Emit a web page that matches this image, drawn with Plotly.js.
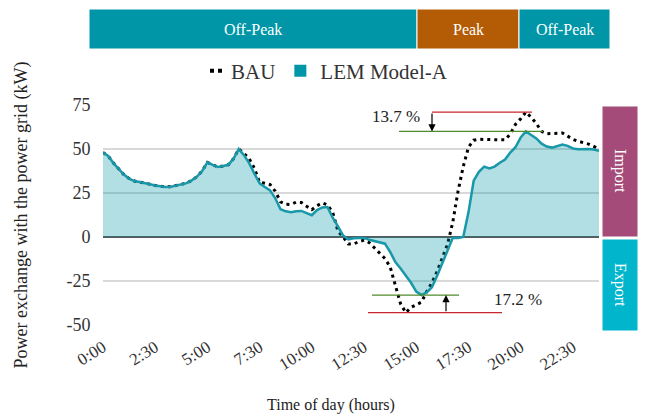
<!DOCTYPE html>
<html>
<head>
<meta charset="utf-8">
<script src="https://cdn.plot.ly/plotly-3.0.1.min.js"></script>
<style>html,body{margin:0;padding:0;background:#fff;}#chart{width:645px;height:417px;}</style>
</head>
<body>
<div id="chart"></div>
<script>
// ---- data (15-minute resolution) ----
const times = ["0:00","0:15","0:30","0:45","1:00","1:15","1:30","1:45","2:00","2:15","2:30","2:45",
"3:00","3:15","3:30","3:45","4:00","4:15","4:30","4:45","5:00","5:15","5:30","5:45",
"6:00","6:15","6:30","6:45","7:00","7:15","7:30","7:45","8:00","8:15","8:30","8:45",
"9:00","9:15","9:30","9:45","10:00","10:15","10:30","10:45","11:00","11:15","11:30","11:45",
"12:00","12:15","12:30","12:45","13:00","13:15","13:30","13:45","14:00","14:15","14:30","14:45",
"15:00","15:15","15:30","15:45","16:00","16:15","16:30","16:45","17:00","17:15","17:30","17:45",
"18:00","18:15","18:30","18:45","19:00","19:15","19:30","19:45","20:00","20:15","20:30","20:45",
"21:00","21:15","21:30","21:45","22:00","22:15","22:30","22:45","23:00","23:15","23:30","23:45"];

const bauValues = [48,46,42,38.5,35.5,33.2,31.8,31.2,30.8,30,29.3,28.8,
28.4,28.6,29.3,30,30.6,32.2,34.3,37.5,42.4,41,39.8,40.3,
41,44.5,50,47.5,44.5,39,31,30.6,29.8,26,20,18.6,
18.5,19.8,19.6,17.5,15.5,17.8,19.4,18.2,14,3.2,0,-4,
-4,-2.6,-1.8,-3.2,-6.3,-9.2,-12.2,-17,-27,-38,-43,-40,
-38.5,-37,-31,-26,-19.5,-12,-4,8.5,26,40,51,55,
55.5,55.4,55.3,55,55,55.2,58.5,64,67.2,71,68,64.5,
60,58.7,58.8,59.1,59.1,57.3,55.5,54.4,53.7,52.8,51.5,49.8];

const lemValues = [48,46,42,38.5,35.5,33.2,31.8,31.2,30.8,30,29.3,28.8,
28.4,28.6,29.3,30,30.6,32.2,34.3,37.5,42.4,41,39.8,40.3,
41,44.5,50,46.5,42,36,30.5,28.4,26.5,22,15.8,14.6,
14.1,14.6,14.8,13.6,12.4,15.3,16.8,17,11,6,0.8,-1.4,
-0.7,-0.5,-0.5,-1.6,-2.4,-2.9,-3.8,-8.5,-14.2,-17.9,-22,-26,
-31,-33,-31.5,-28.5,-22,-15,-8,-0.5,-0.5,0,14,32,
37,40,39,40,42.2,44,48,51,56.5,60,58,56,
53,51.4,50.8,51.8,52.5,51.8,50.3,49.8,50,50,49.7,49];

const tickLabels = ["0:00","2:30","5:00","7:30","10:00","12:30","15:00","17:30","20:00","22:30"];
const yTickValues = [-50,-25,0,25,50,75];
const yTickLabels = ["-50","-25","0","25","50","75"];
const seriesNames = ["BAU","LEM Model-A"];
const periodLabels = ["Off-Peak","Peak","Off-Peak"];
const sideLabels = ["Import","Export"];
const reductionLabels = ["13.7 %","17.2 %"];

// ---- layout helpers (pixel -> paper) ----
const L = 103, R = 599, T = 105, B = 325;
const PX = x => (x - L) / (R - L);
const PY = y => (B - y) / (B - T);
const SERIF = "Liberation Serif";
const TEAL = "#0096A7", LINE = "#1898A8", PEAK = "#B45B06", IMP = "#A54B7A", EXP = "#00B5CC";

const bauMax = Math.max(...bauValues), bauMin = Math.min(...bauValues);
const lemMax = Math.max(...lemValues), lemMin = Math.min(...lemValues);

const traces = [
  {x: times, y: bauValues, type: "scatter", mode: "lines", name: seriesNames[0], showlegend: false,
   line: {color: "#000", width: 3, dash: "3px,4px", shape: "linear"}},
  {x: times, y: lemValues, type: "scatter", mode: "lines", name: seriesNames[1], showlegend: false,
   fill: "tozeroy", fillcolor: "rgba(0,150,167,0.30)",
   line: {color: LINE, width: 2.5, shape: "linear"}},
  // legend entries
  {x: [null], y: [null], type: "scatter", mode: "lines", name: seriesNames[0], hoverinfo: "skip",
   line: {color: "#000", width: 4, dash: "0px,14px,4px,4px,4px,100px"}},
  {x: [null], y: [null], type: "scatter", mode: "markers", name: seriesNames[1], hoverinfo: "skip",
   marker: {symbol: "square", size: 12, color: TEAL}}
];

const rect = (x0, x1, y0, y1, c) => ({type: "rect", xref: "paper", yref: "paper",
  x0: PX(x0), x1: PX(x1), y0: PY(y1), y1: PY(y0), fillcolor: c, line: {color: "#fff", width: 1}, layer: "above"});
const hline = (x0, x1, y, c) => ({type: "line", xref: "paper", yref: "y",
  x0: PX(x0), x1: PX(x1), y0: y, y1: y, line: {color: c, width: 1.3}});

const shapes = [
  rect(89, 417, 9, 49, TEAL),
  rect(417, 519, 9, 49, PEAK),
  rect(519, 610, 9, 49, TEAL),
  rect(602, 638, 106, 237, IMP),
  rect(602, 638, 239, 331, EXP),
  hline(432, 532, bauMax, "#C8262C"),
  hline(399, 543, lemMax, "#4F8A2B"),
  hline(368, 502, bauMin, "#C8262C"),
  hline(372, 459, lemMin, "#4F8A2B")
];

const txt = (s, x, y, size, color, angle) => ({text: s, xref: "paper", yref: "paper",
  x: PX(x), y: PY(y), xanchor: "center", yanchor: "middle", showarrow: false, textangle: angle || 0,
  font: {family: SERIF, size: size, color: color}});

const annotations = [
  txt(periodLabels[0], 253, 29, 16, "#fff"),
  txt(periodLabels[1], 468, 29, 16, "#fff"),
  txt(periodLabels[2], 565, 29, 16, "#fff"),
  txt(sideLabels[0], 620, 171, 16, "#fff", 90),
  txt(sideLabels[1], 620, 285, 16, "#fff", 90),
  txt(reductionLabels[0], 396, 116, 17, "#222"),
  txt(reductionLabels[1], 518, 299, 17, "#222"),
  txt("Time of day (hours)", 331, 405, 16, "#222"),
  {xref: "paper", yref: "y", x: PX(432), y: lemMax, axref: "pixel", ax: 0, ayref: "y", ay: bauMax,
   text: "", showarrow: true, arrowhead: 2, arrowsize: 1.2, arrowwidth: 1.2, arrowcolor: "#000"},
  {xref: "paper", yref: "y", x: PX(446), y: lemMin, axref: "pixel", ax: 0, ayref: "y", ay: bauMin,
   text: "", showarrow: true, arrowhead: 2, arrowsize: 1.2, arrowwidth: 1.2, arrowcolor: "#000"}
];

const layout = {
  width: 645, height: 417,
  margin: {l: L, r: 645 - R, t: T, b: 417 - B, pad: 0},
  paper_bgcolor: "#fff", plot_bgcolor: "#fff",
  font: {family: SERIF, color: "#333"},
  showlegend: true,
  legend: {orientation: "h", x: PX(322), xanchor: "center", y: PY(71), yanchor: "middle",
    font: {family: SERIF, size: 21, color: "#333"}, bgcolor: "rgba(0,0,0,0)", itemwidth: 30},
  xaxis: {type: "category", range: [0, times.length - 1], tickmode: "array",
    tickvals: tickLabels, ticktext: tickLabels, tickangle: -32,
    tickfont: {family: SERIF, size: 17, color: "#333"},
    showgrid: false, zeroline: false, showline: false, ticks: "outside", ticklen: 5, tickcolor: "rgba(0,0,0,0)",
    fixedrange: true},
  yaxis: {range: [-50, 75], tickmode: "array", tickvals: yTickValues, ticktext: yTickLabels,
    title: {text: "Power exchange with the power grid (kW)", font: {family: SERIF, size: 18, color: "#222"}, standoff: 34},
    tickfont: {family: SERIF, size: 18, color: "#333"},
    showgrid: true, gridcolor: "#d9d9d9", gridwidth: 1.3,
    zeroline: true, zerolinecolor: "#5a5a5a", zerolinewidth: 1.5,
    showline: false, ticks: "outside", ticklen: 8, tickcolor: "rgba(0,0,0,0)", automargin: false,
    fixedrange: true},
  shapes: shapes,
  annotations: annotations
};

Plotly.newPlot("chart", traces, layout, {staticPlot: true, displayModeBar: false});
</script>
</body>
</html>
